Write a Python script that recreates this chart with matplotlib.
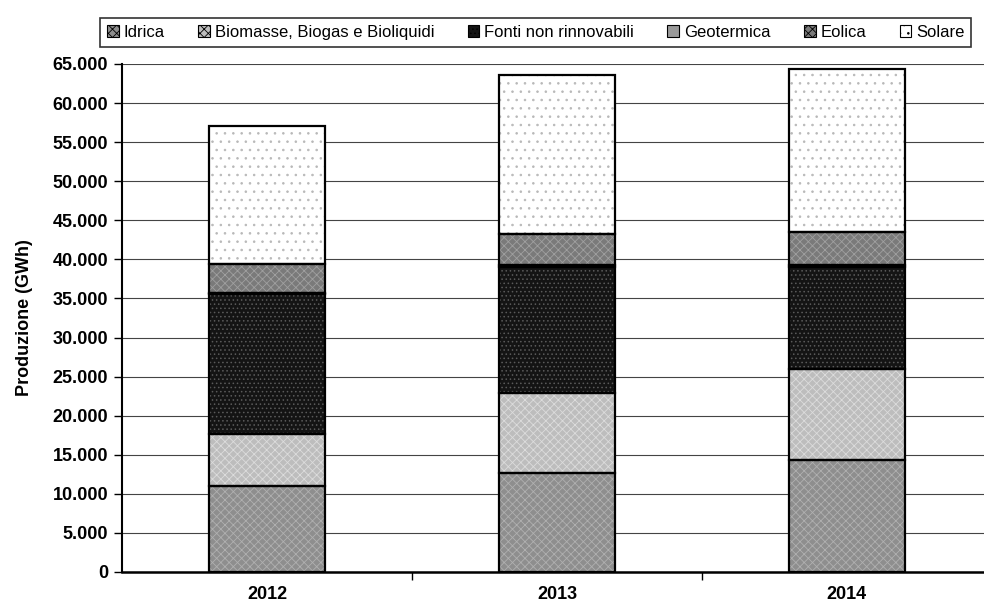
import matplotlib.pyplot as plt
from matplotlib.ticker import FuncFormatter, MultipleLocator
from matplotlib.patches import Patch

# valori (GWh)
ANNI = ["2012", "2013", "2014"]
IDRICA = [11060, 12660, 14360]
BIOMASSE = [6600, 10300, 11570]
FONTI_NON_RINN = [17950, 16110, 13140]
GEOTERMICA = [150, 150, 150]
EOLICA = [3690, 4000, 4290]
SOLARE = [17650, 20420, 20810]

serie = [
	("Idrica", IDRICA),
	("Biomasse, Biogas e Bioliquidi", BIOMASSE),
	("Fonti non rinnovabili", FONTI_NON_RINN),
	("Geotermica", GEOTERMICA),
	("Eolica", EOLICA),
	("Solare", SOLARE),
]
style = {
	"Idrica": {"color": "#8e8e8e", "hatch": "xxxx", "hcolor": "#b0b0b0"},
	"Biomasse, Biogas e Bioliquidi": {"color": "#bdbdbd", "hatch": "xxxx", "hcolor": "#dcdcdc"},
	"Fonti non rinnovabili": {"color": "#141414", "hatch": "....", "hcolor": "#5a5a5a"},
	"Geotermica": {"color": "#9a9a9a", "hatch": "", "hcolor": "#9a9a9a"},
	"Eolica": {"color": "#7a7a7a", "hatch": "xxxx", "hcolor": "#a0a0a0"},
	"Solare": {"color": "#ffffff", "hatch": "..", "hcolor": "#b8b8b8"},
}

plt.rcParams["font.family"] = ["Liberation Sans", "DejaVu Sans"]
fig = plt.figure(figsize=(9.84, 6.10), dpi=100)
ax = fig.add_axes([0.124, 0.0623, 0.884, 0.8328])

x = list(range(len(ANNI)))
bottom = [0] * len(ANNI)
for nome, valori in serie:
	s = style[nome]
	plt.rcParams["hatch.color"] = s["hcolor"]
	plt.rcParams["hatch.linewidth"] = 0.6
	ax.bar(x, valori, width=0.4, bottom=bottom, color=s["color"], hatch=s["hatch"],
		edgecolor=s["hcolor"], linewidth=0, zorder=3)
	ax.bar(x, valori, width=0.4, bottom=bottom, color="none",
		edgecolor="black", linewidth=1.6, zorder=4)
	bottom = [b + v for b, v in zip(bottom, valori)]

ax.set_ylim(0, 65000)
ax.set_xlim(-0.5, 2.5)
ax.yaxis.set_major_locator(MultipleLocator(5000))
ax.yaxis.set_major_formatter(FuncFormatter(lambda v, p: f"{int(v):,}".replace(",", ".")))
ax.set_xticks(x)
ax.set_xticklabels(ANNI)
ax.set_xticks([0.5, 1.5], minor=True)
ax.tick_params(axis="x", which="major", length=0, pad=10)
ax.tick_params(axis="x", which="minor", length=6, width=1, direction="out")
ax.tick_params(axis="y", length=6, width=1, direction="out", pad=4)
for lab in ax.get_yticklabels() + ax.get_xticklabels():
	lab.set_fontsize(13)
	lab.set_fontweight("bold")

ax.grid(True, axis="y", color="#444444", linewidth=0.8, zorder=0)
for side in ["top", "right"]:
	ax.spines[side].set_visible(False)
ax.spines["left"].set_linewidth(1.5)
ax.spines["bottom"].set_linewidth(1.8)
ax.set_ylabel("Produzione (GWh)", fontsize=13, fontweight="bold", labelpad=14)

handles = [Patch(facecolor=style[n]["color"], edgecolor="black", hatch=style[n]["hatch"], linewidth=0.8)
	for n, _ in serie]
leg = fig.legend(handles, [n for n, _ in serie], loc="upper left", bbox_to_anchor=(0.102, 0.970),
	ncol=6, frameon=True, fontsize=12, borderaxespad=0,
	handlelength=0.7, handleheight=0.7, handletextpad=0.3, columnspacing=2.0,
	borderpad=0.4, fancybox=False)
leg.get_frame().set_edgecolor("black")
leg.get_frame().set_linewidth(1.2)

fig.savefig("out.png", dpi=100)
